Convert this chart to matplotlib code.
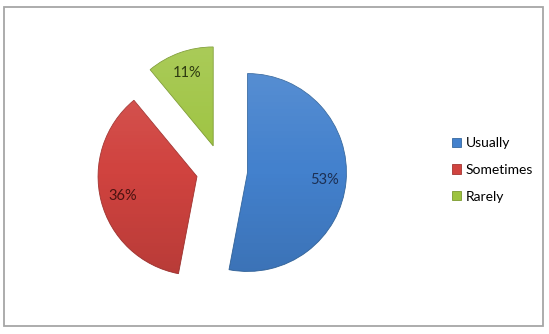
import numpy as np
import matplotlib.pyplot as plt
from matplotlib.patches import Rectangle

labels = ["Usually", "Sometimes", "Rarely"]
shares = [53, 36, 11]
colors = ["#4381cd", "#d0433f", "#9dc33f"]
edge_colors = ["#36689f", "#a33532", "#7b9a30"]
text_colors = ["#1c2f52", "#4a1210", "#2e3a10"]

plt.rcParams['font.family'] = ['Lato', 'DejaVu Sans']

fig = plt.figure(figsize=(5.49, 3.34), dpi=100)

# outer chart border
fig.patches.append(Rectangle((4/549, 8/334), 539/549, 319/334, transform=fig.transFigure,
                             fill=False, edgecolor='#a6a6a6', lw=1.3))

ax = fig.add_axes([83.4/549, 25.4/334, 277/549, 277/334])
wedges, texts, autotexts = ax.pie(shares, explode=[0.26]*3, colors=colors, startangle=90,
                                  counterclock=False, autopct='%.0f%%', pctdistance=0.78,
                                  textprops=dict(fontsize=10.5))
ax.set_xlim(-1.4, 1.4)
ax.set_ylim(-1.4, 1.4)

# soft shading to fake the bevel look
shade = np.zeros((256, 1, 4))
t = np.linspace(0, 1, 256)
shade[:, 0, :3] = np.where(t[:, None] < 0.5, 1.0, 0.0)
shade[:, 0, 3] = np.abs(t - 0.5) * 0.3
for w, ec in zip(wedges, edge_colors):
    w.set_edgecolor(ec)
    w.set_linewidth(0.6)
    im = ax.imshow(shade, extent=(-1.4, 1.4, -1.4, 1.4), aspect='auto', zorder=w.get_zorder() + 0.1)
    im.set_clip_path(w)

for txt, c in zip(autotexts, text_colors):
    txt.set_color(c)
    txt.set_zorder(5)

fig.legend(wedges, labels, loc='center left', bbox_to_anchor=(445/549, 164/334),
           frameon=False, fontsize=10, borderpad=0, handlelength=0.65, handleheight=0.65,
           handletextpad=0.35, labelspacing=1.05)

plt.savefig("out.png", dpi=100)
